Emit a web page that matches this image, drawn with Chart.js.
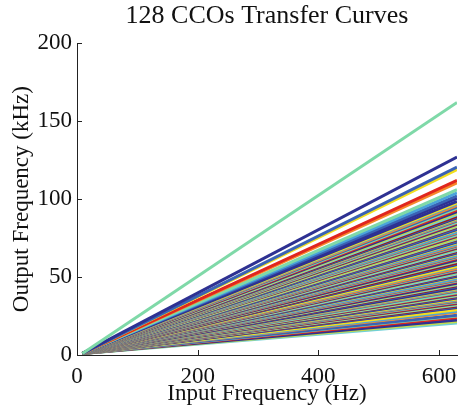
<!DOCTYPE html>
<html>
<head>
<meta charset="utf-8">
<script src="https://cdn.jsdelivr.net/npm/chart.js@4"></script>
<style>
  html, body { margin: 0; padding: 0; background: #fff; }
  #wrap { width: 462px; height: 408px; }
</style>
</head>
<body>
<div id="wrap"><canvas id="ccoChart" width="462" height="408"></canvas></div>
<script>
// --- data ---
// each CCO curve: output at the first input sample and at the last one (630 Hz)
const inputHz = [9, 630];
const startKHz = 1;
const endKHz = [
  162, 127, 120.5, 119, 112, 110.5, 106, 104, 102, 100.5,
  98.5, 97.5, 97, 96, 95, 94, 93, 92, 91, 90, 89, 88.5, 88, 87.5, 87, 86.5, 86, 85,
  84.5, 84, 83, 82.5, 82, 81, 80.5, 80, 79, 78.5, 78, 77, 76.5, 76, 75, 74.5, 74, 73, 72.5, 72, 71, 70.5,
  70, 69.5, 69, 68.5, 68, 67, 66.5, 66, 65.5, 65, 64, 63.5, 63, 62.5, 62, 61, 60.5, 60, 59, 58.5, 58, 57, 56.5, 55.5,
  55, 54.5, 54, 53.5, 53, 52, 51.5, 51, 50.5, 50, 49, 48.5, 48, 47.5, 47, 46, 45.5, 45, 44.5, 44, 43, 42.5, 42, 41.5, 41, 40,
  39.5, 39, 38.5, 38, 37.5, 37, 36.5, 36, 35.5, 35, 34.5, 34, 33.5, 33, 32.5, 32, 31.5, 31, 30.5,
  29, 28, 27.5, 25.5, 25, 24, 22.5, 21.5, 20.5
];
const xTicks = [0, 200, 400, 600];
const yTicks = [0, 50, 100, 150, 200];

// jet-like colours used by the figure
const palette = {
  navy: '#2e3192', blue: '#3a63b5', sky: '#4aa3db', cyan: '#6fd0d8', mint: '#7fd9a8',
  lime: '#c5d94a', yellow: '#f2df1f', orange: '#f7882a', red: '#e0261e', maroon: '#9c1a1a'
};
const topColors = ['mint', 'navy', 'blue', 'yellow', 'red', 'orange', 'mint', 'sky', 'blue', 'navy'];
const cycleColors = ['navy', 'yellow', 'sky', 'orange', 'blue', 'mint', 'red', 'navy', 'lime', 'cyan', 'maroon', 'blue'];

function colorFor(i) {
  if (i < topColors.length) return palette[topColors[i]];
  return palette[cycleColors[(i - topColors.length) % cycleColors.length]];
}

const datasets = endKHz.map((v, i) => ({
  label: 'CCO ' + (i + 1),
  data: [{ x: inputHz[0], y: startKHz }, { x: inputHz[1], y: v }],
  borderColor: colorFor(i),
  borderWidth: 3,
  pointRadius: 0,
  tension: 0,
  fill: false
}));

// MATLAB-style inward tick marks
const inwardTicks = {
  id: 'inwardTicks',
  afterDraw(chart) {
    const c = chart.ctx;
    const xs = chart.scales.x, ys = chart.scales.y;
    const a = chart.chartArea;
    c.save();
    c.strokeStyle = '#222';
    c.lineWidth = 1;
    xTicks.forEach(t => {
      const px = Math.round(xs.getPixelForValue(t)) + 0.5;
      c.beginPath(); c.moveTo(px, a.bottom); c.lineTo(px, a.bottom - 5); c.stroke();
    });
    yTicks.forEach(t => {
      const py = Math.round(ys.getPixelForValue(t)) + 0.5;
      c.beginPath(); c.moveTo(a.left, py); c.lineTo(a.left + 5, py); c.stroke();
    });
    c.restore();
  }
};

const serif = "'Liberation Serif', 'DejaVu Serif', serif";

new Chart(document.getElementById('ccoChart'), {
  type: 'line',
  data: { datasets: datasets },
  plugins: [inwardTicks],
  options: {
    responsive: false,
    animation: false,
    layout: { padding: { left: 0, right: 5, top: 0, bottom: 0 } },
    plugins: {
      legend: { display: false },
      tooltip: { enabled: false },
      title: {
        display: true,
        fullSize: false,
        text: '128 CCOs Transfer Curves',
        color: '#111',
        font: { family: serif, size: 26, weight: 'normal' },
        padding: { top: 1, bottom: 11 }
      }
    },
    scales: {
      x: {
        type: 'linear',
        min: 0, max: 630,
        grid: { display: false },
        border: { display: true, color: '#222', width: 1 },
        afterBuildTicks(scale) { scale.ticks = xTicks.map(v => ({ value: v })); },
        ticks: {
          color: '#111', font: { family: serif, size: 23 }, padding: 0, maxRotation: 0
        },
        title: {
          display: true, text: 'Input Frequency (Hz)', color: '#111',
          font: { family: serif, size: 23 }, padding: { top: -6, bottom: 0 }
        },
        afterFit(scale) { scale.height = 53; }
      },
      y: {
        type: 'linear',
        min: 0, max: 200,
        grid: { display: false },
        border: { display: true, color: '#222', width: 1 },
        afterBuildTicks(scale) { scale.ticks = yTicks.map(v => ({ value: v })); },
        ticks: {
          color: '#111', font: { family: serif, size: 23 }, padding: -3
        },
        title: {
          display: true, text: 'Output Frequency (kHz)', color: '#111',
          font: { family: serif, size: 23 }, padding: { top: 8, bottom: 0 }
        },
        afterFit(scale) { scale.width = 77; }
      }
    }
  }
});
</script>
</body>
</html>
